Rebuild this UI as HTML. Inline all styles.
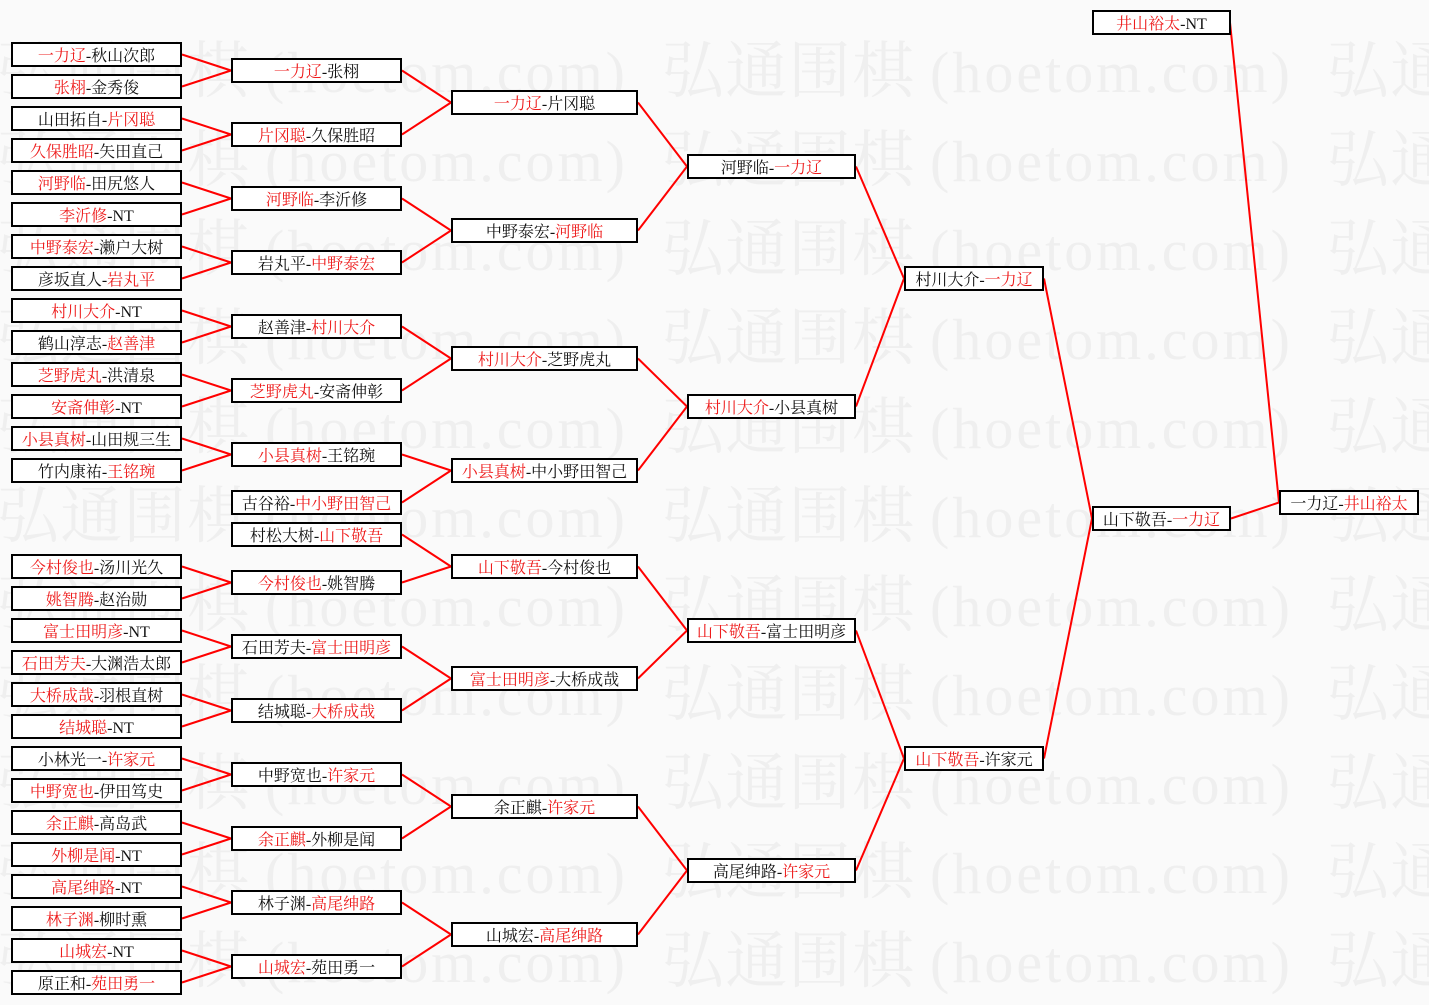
<!DOCTYPE html>
<html><head><meta charset="utf-8">
<style>
html,body{margin:0;padding:0;background:#fafafa;}
body{width:1429px;height:1005px;overflow:hidden;}
svg{display:block;}
.w1{font-family:"Noto Serif CJK SC","Liberation Serif",serif;font-size:62px;fill:#efefef;}
.w2{font-family:"Liberation Serif",serif;font-size:58px;fill:#efefef;}
.b{fill:#fff;stroke:#000;stroke-width:2;}
.t{font-family:"Liberation Serif","Noto Serif CJK SC",serif;font-size:16px;fill:#111;text-anchor:middle;}
.r{fill:#ee1c1c;}
</style></head><body>
<svg width="1429" height="1005" viewBox="0 0 1429 1005" xmlns="http://www.w3.org/2000/svg">
<rect x="0" y="0" width="1429" height="1005" fill="#fafafa"/>
<g>
<text class="w1" x="-3" y="92" textLength="252">弘通围棋</text><text class="w2" x="265" y="92" textLength="360" lengthAdjust="spacing">(hoetom.com)</text>
<text class="w1" x="662" y="92" textLength="252">弘通围棋</text><text class="w2" x="930" y="92" textLength="360" lengthAdjust="spacing">(hoetom.com)</text>
<text class="w1" x="1327" y="92" textLength="252">弘通围棋</text>

<text class="w1" x="-3" y="181" textLength="252">弘通围棋</text><text class="w2" x="265" y="181" textLength="360" lengthAdjust="spacing">(hoetom.com)</text>
<text class="w1" x="662" y="181" textLength="252">弘通围棋</text><text class="w2" x="930" y="181" textLength="360" lengthAdjust="spacing">(hoetom.com)</text>
<text class="w1" x="1327" y="181" textLength="252">弘通围棋</text>

<text class="w1" x="-3" y="270" textLength="252">弘通围棋</text><text class="w2" x="265" y="270" textLength="360" lengthAdjust="spacing">(hoetom.com)</text>
<text class="w1" x="662" y="270" textLength="252">弘通围棋</text><text class="w2" x="930" y="270" textLength="360" lengthAdjust="spacing">(hoetom.com)</text>
<text class="w1" x="1327" y="270" textLength="252">弘通围棋</text>

<text class="w1" x="-3" y="359" textLength="252">弘通围棋</text><text class="w2" x="265" y="359" textLength="360" lengthAdjust="spacing">(hoetom.com)</text>
<text class="w1" x="662" y="359" textLength="252">弘通围棋</text><text class="w2" x="930" y="359" textLength="360" lengthAdjust="spacing">(hoetom.com)</text>
<text class="w1" x="1327" y="359" textLength="252">弘通围棋</text>

<text class="w1" x="-3" y="448" textLength="252">弘通围棋</text><text class="w2" x="265" y="448" textLength="360" lengthAdjust="spacing">(hoetom.com)</text>
<text class="w1" x="662" y="448" textLength="252">弘通围棋</text><text class="w2" x="930" y="448" textLength="360" lengthAdjust="spacing">(hoetom.com)</text>
<text class="w1" x="1327" y="448" textLength="252">弘通围棋</text>

<text class="w1" x="-3" y="537" textLength="252">弘通围棋</text><text class="w2" x="265" y="537" textLength="360" lengthAdjust="spacing">(hoetom.com)</text>
<text class="w1" x="662" y="537" textLength="252">弘通围棋</text><text class="w2" x="930" y="537" textLength="360" lengthAdjust="spacing">(hoetom.com)</text>
<text class="w1" x="1327" y="537" textLength="252">弘通围棋</text>

<text class="w1" x="-3" y="626" textLength="252">弘通围棋</text><text class="w2" x="265" y="626" textLength="360" lengthAdjust="spacing">(hoetom.com)</text>
<text class="w1" x="662" y="626" textLength="252">弘通围棋</text><text class="w2" x="930" y="626" textLength="360" lengthAdjust="spacing">(hoetom.com)</text>
<text class="w1" x="1327" y="626" textLength="252">弘通围棋</text>

<text class="w1" x="-3" y="715" textLength="252">弘通围棋</text><text class="w2" x="265" y="715" textLength="360" lengthAdjust="spacing">(hoetom.com)</text>
<text class="w1" x="662" y="715" textLength="252">弘通围棋</text><text class="w2" x="930" y="715" textLength="360" lengthAdjust="spacing">(hoetom.com)</text>
<text class="w1" x="1327" y="715" textLength="252">弘通围棋</text>

<text class="w1" x="-3" y="804" textLength="252">弘通围棋</text><text class="w2" x="265" y="804" textLength="360" lengthAdjust="spacing">(hoetom.com)</text>
<text class="w1" x="662" y="804" textLength="252">弘通围棋</text><text class="w2" x="930" y="804" textLength="360" lengthAdjust="spacing">(hoetom.com)</text>
<text class="w1" x="1327" y="804" textLength="252">弘通围棋</text>

<text class="w1" x="-3" y="893" textLength="252">弘通围棋</text><text class="w2" x="265" y="893" textLength="360" lengthAdjust="spacing">(hoetom.com)</text>
<text class="w1" x="662" y="893" textLength="252">弘通围棋</text><text class="w2" x="930" y="893" textLength="360" lengthAdjust="spacing">(hoetom.com)</text>
<text class="w1" x="1327" y="893" textLength="252">弘通围棋</text>

<text class="w1" x="-3" y="982" textLength="252">弘通围棋</text><text class="w2" x="265" y="982" textLength="360" lengthAdjust="spacing">(hoetom.com)</text>
<text class="w1" x="662" y="982" textLength="252">弘通围棋</text><text class="w2" x="930" y="982" textLength="360" lengthAdjust="spacing">(hoetom.com)</text>
<text class="w1" x="1327" y="982" textLength="252">弘通围棋</text>
</g>

<path fill="none" stroke="#f00" stroke-width="2" d="
M182 54.5L231 70.5 M182 86.5L231 70.5
M182 118.5L231 134.5 M182 150.5L231 134.5
M182 182.5L231 198.5 M182 214.5L231 198.5
M182 246.5L231 262.5 M182 278.5L231 262.5
M182 310.5L231 326.5 M182 342.5L231 326.5
M182 374.5L231 390.5 M182 406.5L231 390.5
M182 438.5L231 454.5 M182 470.5L231 454.5
M182 566.5L231 582.5 M182 598.5L231 582.5
M182 630.5L231 646.5 M182 662.5L231 646.5
M182 694.5L231 710.5 M182 726.5L231 710.5
M182 758.5L231 774.5 M182 790.5L231 774.5
M182 822.5L231 838.5 M182 854.5L231 838.5
M182 886.5L231 902.5 M182 918.5L231 902.5
M182 950.5L231 966.5 M182 982.5L231 966.5
M402 70.5L451 102.5 M402 134.5L451 102.5
M402 198.5L451 230.5 M402 262.5L451 230.5
M402 326.5L451 358.5 M402 390.5L451 358.5
M402 454.5L451 470.5 M402 502.5L451 470.5
M402 534.5L451 566.5 M402 582.5L451 566.5
M402 646.5L451 678.5 M402 710.5L451 678.5
M402 774.5L451 806.5 M402 838.5L451 806.5
M402 902.5L451 934.5 M402 966.5L451 934.5
M638 102.5L687 166.5 M638 230.5L687 166.5
M638 358.5L687 406.5 M638 470.5L687 406.5
M638 566.5L687 630.5 M638 678.5L687 630.5
M638 806.5L687 870.5 M638 934.5L687 870.5
M856 166.5L904 278.5 M856 406.5L904 278.5
M856 630.5L904 758.5 M856 870.5L904 758.5
M1044 278.5L1092 518.5 M1044 758.5L1092 518.5
M1231 518.5L1279 502.5 M1230 22.5L1279 502.5"/>

<!-- Column 1 -->
<g>
<rect class="b" x="12" y="43" width="169" height="23"/><text class="t" x="96.5" y="61"><tspan class="r">一力辽</tspan>-秋山次郎</text>
<rect class="b" x="12" y="75" width="169" height="23"/><text class="t" x="96.5" y="93"><tspan class="r">张栩</tspan>-金秀俊</text>
<rect class="b" x="12" y="107" width="169" height="23"/><text class="t" x="96.5" y="125">山田拓自-<tspan class="r">片冈聪</tspan></text>
<rect class="b" x="12" y="139" width="169" height="23"/><text class="t" x="96.5" y="157"><tspan class="r">久保胜昭</tspan>-矢田直己</text>
<rect class="b" x="12" y="171" width="169" height="23"/><text class="t" x="96.5" y="189"><tspan class="r">河野临</tspan>-田尻悠人</text>
<rect class="b" x="12" y="203" width="169" height="23"/><text class="t" x="96.5" y="221"><tspan class="r">李沂修</tspan>-NT</text>
<rect class="b" x="12" y="235" width="169" height="23"/><text class="t" x="96.5" y="253"><tspan class="r">中野泰宏</tspan>-濑户大树</text>
<rect class="b" x="12" y="267" width="169" height="23"/><text class="t" x="96.5" y="285">彦坂直人-<tspan class="r">岩丸平</tspan></text>
<rect class="b" x="12" y="299" width="169" height="23"/><text class="t" x="96.5" y="317"><tspan class="r">村川大介</tspan>-NT</text>
<rect class="b" x="12" y="331" width="169" height="23"/><text class="t" x="96.5" y="349">鹤山淳志-<tspan class="r">赵善津</tspan></text>
<rect class="b" x="12" y="363" width="169" height="23"/><text class="t" x="96.5" y="381"><tspan class="r">芝野虎丸</tspan>-洪清泉</text>
<rect class="b" x="12" y="395" width="169" height="23"/><text class="t" x="96.5" y="413"><tspan class="r">安斋伸彰</tspan>-NT</text>
<rect class="b" x="12" y="427" width="169" height="23"/><text class="t" x="96.5" y="445"><tspan class="r">小县真树</tspan>-山田规三生</text>
<rect class="b" x="12" y="459" width="169" height="23"/><text class="t" x="96.5" y="477">竹内康祐-<tspan class="r">王铭琬</tspan></text>
<rect class="b" x="12" y="555" width="169" height="23"/><text class="t" x="96.5" y="573"><tspan class="r">今村俊也</tspan>-汤川光久</text>
<rect class="b" x="12" y="587" width="169" height="23"/><text class="t" x="96.5" y="605"><tspan class="r">姚智腾</tspan>-赵治勋</text>
<rect class="b" x="12" y="619" width="169" height="23"/><text class="t" x="96.5" y="637"><tspan class="r">富士田明彦</tspan>-NT</text>
<rect class="b" x="12" y="651" width="169" height="23"/><text class="t" x="96.5" y="669"><tspan class="r">石田芳夫</tspan>-大渊浩太郎</text>
<rect class="b" x="12" y="683" width="169" height="23"/><text class="t" x="96.5" y="701"><tspan class="r">大桥成哉</tspan>-羽根直树</text>
<rect class="b" x="12" y="715" width="169" height="23"/><text class="t" x="96.5" y="733"><tspan class="r">结城聪</tspan>-NT</text>
<rect class="b" x="12" y="747" width="169" height="23"/><text class="t" x="96.5" y="765">小林光一-<tspan class="r">许家元</tspan></text>
<rect class="b" x="12" y="779" width="169" height="23"/><text class="t" x="96.5" y="797"><tspan class="r">中野宽也</tspan>-伊田笃史</text>
<rect class="b" x="12" y="811" width="169" height="23"/><text class="t" x="96.5" y="829"><tspan class="r">余正麒</tspan>-高岛武</text>
<rect class="b" x="12" y="843" width="169" height="23"/><text class="t" x="96.5" y="861"><tspan class="r">外柳是闻</tspan>-NT</text>
<rect class="b" x="12" y="875" width="169" height="23"/><text class="t" x="96.5" y="893"><tspan class="r">高尾绅路</tspan>-NT</text>
<rect class="b" x="12" y="907" width="169" height="23"/><text class="t" x="96.5" y="925"><tspan class="r">林子渊</tspan>-柳时熏</text>
<rect class="b" x="12" y="939" width="169" height="23"/><text class="t" x="96.5" y="957"><tspan class="r">山城宏</tspan>-NT</text>
<rect class="b" x="12" y="971" width="169" height="23"/><text class="t" x="96.5" y="989">原正和-<tspan class="r">苑田勇一</tspan></text>
</g>

<!-- Column 2 -->
<g>
<rect class="b" x="232" y="59" width="169" height="23"/><text class="t" x="316.5" y="77"><tspan class="r">一力辽</tspan>-张栩</text>
<rect class="b" x="232" y="123" width="169" height="23"/><text class="t" x="316.5" y="141"><tspan class="r">片冈聪</tspan>-久保胜昭</text>
<rect class="b" x="232" y="187" width="169" height="23"/><text class="t" x="316.5" y="205"><tspan class="r">河野临</tspan>-李沂修</text>
<rect class="b" x="232" y="251" width="169" height="23"/><text class="t" x="316.5" y="269">岩丸平-<tspan class="r">中野泰宏</tspan></text>
<rect class="b" x="232" y="315" width="169" height="23"/><text class="t" x="316.5" y="333">赵善津-<tspan class="r">村川大介</tspan></text>
<rect class="b" x="232" y="379" width="169" height="23"/><text class="t" x="316.5" y="397"><tspan class="r">芝野虎丸</tspan>-安斋伸彰</text>
<rect class="b" x="232" y="443" width="169" height="23"/><text class="t" x="316.5" y="461"><tspan class="r">小县真树</tspan>-王铭琬</text>
<rect class="b" x="232" y="491" width="169" height="23"/><text class="t" x="316.5" y="509">古谷裕-<tspan class="r">中小野田智己</tspan></text>
<rect class="b" x="232" y="523" width="169" height="23"/><text class="t" x="316.5" y="541">村松大树-<tspan class="r">山下敬吾</tspan></text>
<rect class="b" x="232" y="571" width="169" height="23"/><text class="t" x="316.5" y="589"><tspan class="r">今村俊也</tspan>-姚智腾</text>
<rect class="b" x="232" y="635" width="169" height="23"/><text class="t" x="316.5" y="653">石田芳夫-<tspan class="r">富士田明彦</tspan></text>
<rect class="b" x="232" y="699" width="169" height="23"/><text class="t" x="316.5" y="717">结城聪-<tspan class="r">大桥成哉</tspan></text>
<rect class="b" x="232" y="763" width="169" height="23"/><text class="t" x="316.5" y="781">中野宽也-<tspan class="r">许家元</tspan></text>
<rect class="b" x="232" y="827" width="169" height="23"/><text class="t" x="316.5" y="845"><tspan class="r">余正麒</tspan>-外柳是闻</text>
<rect class="b" x="232" y="891" width="169" height="23"/><text class="t" x="316.5" y="909">林子渊-<tspan class="r">高尾绅路</tspan></text>
<rect class="b" x="232" y="955" width="169" height="23"/><text class="t" x="316.5" y="973"><tspan class="r">山城宏</tspan>-苑田勇一</text>
</g>

<!-- Column 3 -->
<g>
<rect class="b" x="452" y="91" width="185" height="23"/><text class="t" x="544.5" y="109"><tspan class="r">一力辽</tspan>-片冈聪</text>
<rect class="b" x="452" y="219" width="185" height="23"/><text class="t" x="544.5" y="237">中野泰宏-<tspan class="r">河野临</tspan></text>
<rect class="b" x="452" y="347" width="185" height="23"/><text class="t" x="544.5" y="365"><tspan class="r">村川大介</tspan>-芝野虎丸</text>
<rect class="b" x="452" y="459" width="185" height="23"/><text class="t" x="544.5" y="477"><tspan class="r">小县真树</tspan>-中小野田智己</text>
<rect class="b" x="452" y="555" width="185" height="23"/><text class="t" x="544.5" y="573"><tspan class="r">山下敬吾</tspan>-今村俊也</text>
<rect class="b" x="452" y="667" width="185" height="23"/><text class="t" x="544.5" y="685"><tspan class="r">富士田明彦</tspan>-大桥成哉</text>
<rect class="b" x="452" y="795" width="185" height="23"/><text class="t" x="544.5" y="813">余正麒-<tspan class="r">许家元</tspan></text>
<rect class="b" x="452" y="923" width="185" height="23"/><text class="t" x="544.5" y="941">山城宏-<tspan class="r">高尾绅路</tspan></text>
</g>

<!-- Column 4 -->
<g>
<rect class="b" x="688" y="155" width="167" height="23"/><text class="t" x="771.5" y="173">河野临-<tspan class="r">一力辽</tspan></text>
<rect class="b" x="688" y="395" width="167" height="23"/><text class="t" x="771.5" y="413"><tspan class="r">村川大介</tspan>-小县真树</text>
<rect class="b" x="688" y="619" width="167" height="23"/><text class="t" x="771.5" y="637"><tspan class="r">山下敬吾</tspan>-富士田明彦</text>
<rect class="b" x="688" y="859" width="167" height="23"/><text class="t" x="771.5" y="877">高尾绅路-<tspan class="r">许家元</tspan></text>
</g>

<!-- Column 5 -->
<g>
<rect class="b" x="905" y="267" width="138" height="23"/><text class="t" x="974" y="285">村川大介-<tspan class="r">一力辽</tspan></text>
<rect class="b" x="905" y="747" width="138" height="23"/><text class="t" x="974" y="765"><tspan class="r">山下敬吾</tspan>-许家元</text>
</g>

<!-- Column 6 -->
<g>
<rect class="b" x="1093" y="11" width="137" height="23"/><text class="t" x="1161.5" y="29"><tspan class="r">井山裕太</tspan>-NT</text>
<rect class="b" x="1093" y="507" width="137" height="23"/><text class="t" x="1161.5" y="525">山下敬吾-<tspan class="r">一力辽</tspan></text>
</g>

<!-- Column 7 -->
<g>
<rect class="b" x="1280" y="491" width="138" height="23"/><text class="t" x="1349" y="509">一力辽-<tspan class="r">井山裕太</tspan></text>
</g>
</svg>
</body></html>
